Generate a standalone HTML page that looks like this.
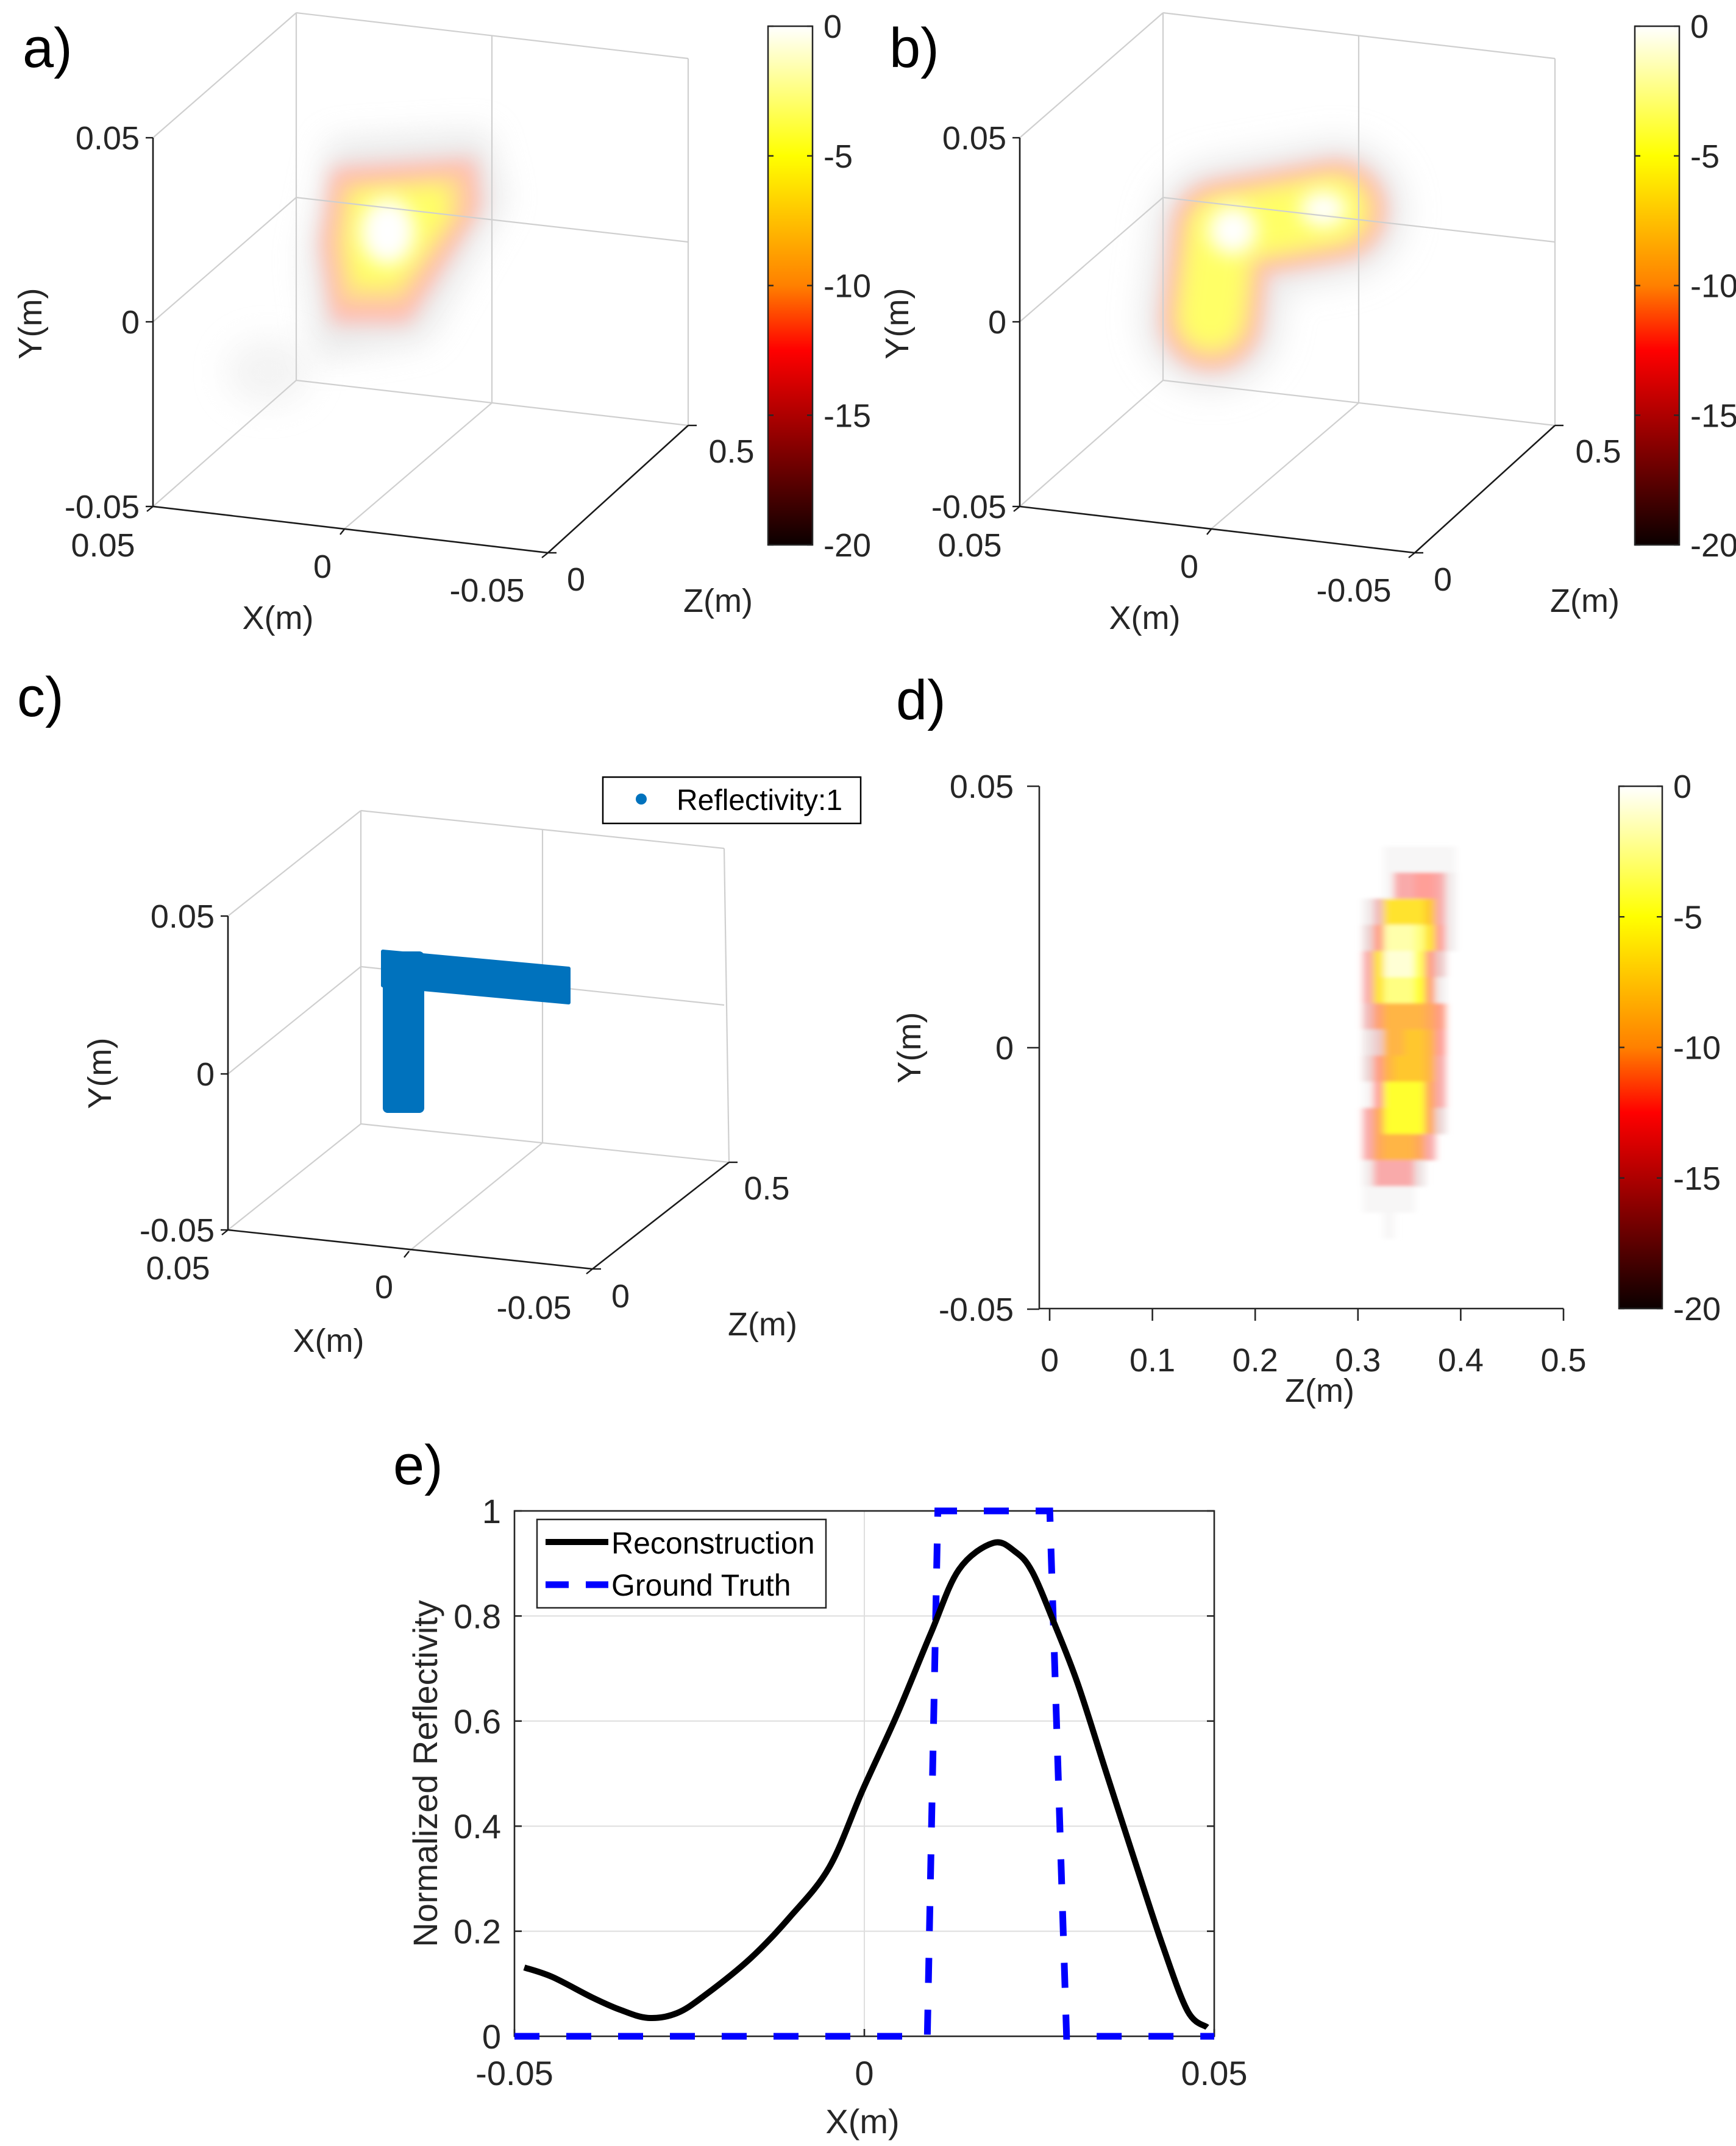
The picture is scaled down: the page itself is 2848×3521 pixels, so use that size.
<!DOCTYPE html>
<html><head><meta charset="utf-8">
<style>
html,body{margin:0;padding:0;background:#fff;}
svg{display:block;font-family:"Liberation Sans",Arial,sans-serif;}
</style></head>
<body>
<svg id="fig" width="2848" height="3521" viewBox="0 0 2848 3521" xmlns="http://www.w3.org/2000/svg">
<defs>
  <linearGradient id="hotcb" x1="0" y1="0" x2="0" y2="1">
    <stop offset="0" stop-color="#ffffff"/>
    <stop offset="0.25" stop-color="#ffff00"/>
    <stop offset="0.5" stop-color="#ff8000"/>
    <stop offset="0.625" stop-color="#ff0000"/>
    <stop offset="1" stop-color="#0b0000"/>
  </linearGradient>
  <filter id="blurA" filterUnits="userSpaceOnUse" x="0" y="0" width="1300" height="1000"><feGaussianBlur stdDeviation="16"/></filter>
  <filter id="blurB" filterUnits="userSpaceOnUse" x="0" y="0" width="1300" height="1000"><feGaussianBlur stdDeviation="26"/></filter>
  <filter id="blurH" filterUnits="userSpaceOnUse" x="1700" y="1250" width="900" height="950"><feGaussianBlur stdDeviation="6 3"/></filter>
</defs>

<g id="panelA">
  <text x="37" y="110" font-size="92">a)</text>
  <g>
    <polygon points="540,230 800,215 830,330 700,560 520,590 500,420" fill="#d8d8d8" opacity="0.55" filter="url(#blurB)"/>
    <ellipse cx="440" cy="610" rx="70" ry="55" fill="#e8e8e8" opacity="0.5" filter="url(#blurB)"/>
    <polygon points="545,275 780,260 790,340 670,530 545,530 525,400" fill="#ffbcb4" filter="url(#blurA)"/>
    <polygon points="560,300 760,285 765,345 660,500 560,500 545,400" fill="#ffd890" filter="url(#blurA)"/>
    <polygon points="580,315 735,305 735,355 650,470 580,470 570,400" fill="#ffff66" filter="url(#blurA)"/>
    <ellipse cx="636" cy="380" rx="45" ry="55" fill="#ffffff" filter="url(#blurA)"/>
  </g>
</g>
<g id="panelB" transform="translate(1422,0)">
  <text x="37" y="110" font-size="92">b)</text>
  <g>
    <polyline points="565,525 582,378 770,345" fill="none" stroke="#d8d8d8" stroke-opacity="0.55" stroke-width="230" stroke-linecap="round" stroke-linejoin="round" filter="url(#blurB)"/>
    <polyline points="565,525 582,378 770,345" fill="none" stroke="#ffbcb4" stroke-width="165" stroke-linecap="round" stroke-linejoin="round" filter="url(#blurA)"/>
    <polyline points="565,525 582,378 770,345" fill="none" stroke="#ffd890" stroke-width="130" stroke-linecap="round" stroke-linejoin="round" filter="url(#blurA)"/>
    <polyline points="565,520 582,378 765,345" fill="none" stroke="#ffff66" stroke-width="100" stroke-linecap="round" stroke-linejoin="round" filter="url(#blurA)"/>
    <ellipse cx="600" cy="378" rx="40" ry="40" fill="#ffffff" filter="url(#blurA)"/>
    <ellipse cx="749" cy="343" rx="38" ry="30" fill="#ffffff" filter="url(#blurA)"/>
  </g>
</g>

<g id="panelC">
  <text x="28" y="1175" font-size="92">c)</text>
  <g>
    <rect x="989" y="1275" width="423" height="76" fill="#fff" stroke="#000" stroke-width="2.5"/>
    <circle cx="1052" cy="1311" r="9" fill="#0072bd"/>
    <text x="1110" y="1329" font-size="48">Reflectivity:1</text>
  </g>
</g>

<g id="panelD">
  <text x="1470" y="1180" font-size="92">d)</text>
</g>

<g id="panelE">
  <text x="645" y="2435" font-size="92">e)</text>
</g>
</svg>

<script>
// ---------------- Panel e data ----------------
const reconX = [-0.0486,-0.0446,-0.0389,-0.0349,-0.0309,-0.0268,-0.0228,-0.0163,-0.0107,-0.0050,-0.0002,0.0046,0.0095,0.0135,0.0184,0.0216,0.0240,0.0272,0.0305,0.0345,0.0385,0.0426,0.0462,0.0490];
const reconY = [0.131,0.113,0.074,0.0505,0.035,0.044,0.078,0.148,0.226,0.322,0.470,0.610,0.767,0.888,0.939,0.922,0.884,0.784,0.671,0.505,0.340,0.174,0.048,0.017];
const truthX = [-0.05,0.009,0.0105,0.0265,0.0289,0.05];
const truthY = [0,0,1,1,0,0];
const eXTicks = [-0.05,0,0.05];
const eXTickLabels = ["-0.05","0","0.05"];
const eYTicks = [0,0.2,0.4,0.6,0.8,1];
const eYTickLabels = ["0","0.2","0.4","0.6","0.8","1"];

// ---------------- Panel d data (dB) ----------------
const dZCenters = [0.31,0.32,0.33,0.34,0.35,0.36,0.37,0.38,0.39,0.40];
const dYCenters = [0.036,0.031,0.026,0.021,0.016,0.011,0.006,0.001,-0.004,-0.009,-0.014,-0.019,-0.024,-0.029,-0.034];
const dValues = [
 [-30,-30,-19,-19,-19,-19,-19,-19,-19,-30],
 [-30,-30,-19,-13,-13,-12,-12,-13,-18,-30],
 [-18,-14,-6,-6,-6,-6,-7,-13,-18,-30],
 [-16,-11,-2,-2,-2,-3,-6,-12,-18,-30],
 [-13,-6,-1,-1,-1,-4,-11,-15,-30,-30],
 [-13,-6,-3,-3,-3,-5,-10,-18,-30,-30],
 [-14,-10,-8,-8,-8,-8,-9,-11,-30,-30],
 [-17,-15,-8,-8,-7,-7,-8,-12,-30,-30],
 [-16,-11,-8,-7,-7,-7,-8,-13,-30,-30],
 [-19,-12,-5,-5,-5,-5,-9,-13,-30,-30],
 [-13,-9,-5,-5,-5,-5,-9,-16,-30,-30],
 [-13,-9,-8,-8,-8,-9,-13,-30,-30,-30],
 [-18,-13,-13,-13,-13,-17,-30,-30,-30,-30],
 [-19,-19,-19,-19,-19,-30,-30,-30,-30,-30],
 [-30,-30,-19,-30,-30,-30,-30,-30,-30,-30]
];
const dXTicks = [0,0.1,0.2,0.3,0.4,0.5];
const dXTickLabels = ["0","0.1","0.2","0.3","0.4","0.5"];
const dYTicks = [0.05,0,-0.05];
const dYTickLabels = ["0.05","0","-0.05"];
const cbTicks = [0,-5,-10,-15,-20];
const cbTickLabels = ["0","-5","-10","-15","-20"];

// ---------------- Panel c data ----------------
const lVertX = [0.030, 0.030];
const lVertY = [0.030, -0.005];
const lHorzY = [0.030, 0.030];
const lHorzX = [0.030, -0.025];

const NS = "http://www.w3.org/2000/svg";
const svg = document.getElementById('fig');
function mk(tag, attrs, parent){
  const el = document.createElementNS(NS, tag);
  for (const k in attrs) el.setAttribute(k, attrs[k]);
  (parent||svg).appendChild(el);
  return el;
}
function txt(s, attrs, parent){ const t = mk('text', attrs, parent); t.textContent = s; return t; }

function box3d(g, P){
  const grey = '#cfcfcf';
  const lines = [
    [P.bl_t, P.bl_b],[P.bm_t,P.bm_b],[P.br_t,P.br_b],
    [P.bl_t, P.br_t],[P.bl_m,P.br_m],[P.bl_b,P.br_b],
    [P.fl_t, P.bl_t],[P.fl_m,P.bl_m],[P.fl_b,P.bl_b],
    [P.fm_b, P.bm_b]
  ];
  for (const L of lines){
    const ln = mk('line',{x1:L[0][0],y1:L[0][1],x2:L[1][0],y2:L[1][1],stroke:grey,'stroke-width':2.2},g);
    
    
  }
  const ax = [[P.fl_t,P.fl_b],[P.fl_b,P.fr_b],[P.fr_b,P.br_b]];
  for (const L of ax){
    const ln = mk('line',{x1:L[0][0],y1:L[0][1],x2:L[1][0],y2:L[1][1],stroke:'#1a1a1a','stroke-width':2.6},g);
    
    
  }
  const tk = [[P.fl_t,[-12,0]],[P.fl_m,[-12,0]],[P.fl_b,[-12,0]],[P.fl_b,[-10,8]],[P.fm_b,[-8,10]],[P.fr_b,[-10,8]],[P.fr_b,[14,0]],[P.br_b,[14,0]]];
  for (const t of tk){
    const ln = mk('line',{x1:t[0][0],y1:t[0][1],x2:t[0][0]+t[1][0],y2:t[0][1]+t[1][1],stroke:'#1a1a1a','stroke-width':2.4},g);
    
    
  }
  const fs = 54;
  const labels = [
    ['0.05', P.fl_t[0]-22, P.fl_t[1]+19, 'end','y-tick-label'],
    ['0', P.fl_m[0]-22, P.fl_m[1]+19, 'end','y-tick-label'],
    ['-0.05', P.fl_b[0]-22, P.fl_b[1]+19, 'end','y-tick-label'],
    ['0.05', P.xl0[0], P.xl0[1], 'middle','x-tick-label'],
    ['0', P.xl1[0], P.xl1[1], 'middle','x-tick-label'],
    ['-0.05', P.xl2[0], P.xl2[1], 'middle','x-tick-label'],
    ['0', P.zl0[0], P.zl0[1], 'middle','z-tick-label'],
    ['0.5', P.zl1[0], P.zl1[1], 'middle','z-tick-label'],
    ['X(m)', P.xt[0], P.xt[1], 'middle','x-axis-title'],
    ['Z(m)', P.zt[0], P.zt[1], 'middle','z-axis-title']
  ];
  for (const l of labels){
    const t = txt(l[0],{x:l[1],y:l[2],'font-size':fs,'text-anchor':l[3],fill:'#262626'},g);
    
    
  }
  const yt = txt('Y(m)',{x:P.yt[0],y:P.yt[1],'font-size':fs,'text-anchor':'middle',fill:'#262626',transform:`rotate(-90 ${P.yt[0]} ${P.yt[1]})`},g);
  
  
}

const PA = {
  bl_t:[486,21], bl_m:[486,324], bl_b:[486,624],
  bm_t:[807,59], bm_b:[807,661],
  br_t:[1129,96], br_m:[1129,397], br_b:[1129,698],
  fl_t:[251,226], fl_m:[251,528], fl_b:[251,831],
  fm_b:[566,867], fr_b:[899,907],
  xl0:[169,913], xl1:[529,948], xl2:[799,987], zl0:[945,969], zl1:[1200,759],
  xt:[456,1032], zt:[1178,1004], yt:[68,531]
};
function colorbar(g, x, y0, y1, w){
  const r = mk('rect',{x:x,y:y0,width:w,height:y1-y0,fill:'url(#hotcb)',stroke:'#262626','stroke-width':2.5},g);
  
  
  const sc = v => y0 + (0 - v)/20*(y1-y0);
  cbTicks.forEach((v,i)=>{
    const yy = sc(v);
    const a = mk('line',{x1:x,y1:yy,x2:x+9,y2:yy,stroke:'#262626','stroke-width':2.4},g);
    
    
    const b = mk('line',{x1:x+w-9,y1:yy,x2:x+w,y2:yy,stroke:'#262626','stroke-width':2.4},g);
    
    
    const t = txt(cbTickLabels[i],{x:x+w+18,y:yy+19,'font-size':54,fill:'#262626'},g);
    
    
  });
}
const gA = document.getElementById('panelA');
const gB = document.getElementById('panelB');
box3d(gA, PA); colorbar(gA, 1260, 43, 894, 73);
box3d(gB, PA); colorbar(gB, 1260, 43, 894, 73);

const PC = {
  bl_t:[592,1330], bl_m:[592,1586], bl_b:[592,1844],
  bm_t:[890,1362], bm_b:[890,1875],
  br_t:[1188,1392], br_m:[1188,1649], br_b:[1196,1907],
  fl_t:[374,1503], fl_m:[374,1762], fl_b:[374,2018],
  fm_b:[671,2053], fr_b:[972,2082],
  xl0:[292,2099], xl1:[630,2130], xl2:[876,2164], zl0:[1018,2145], zl1:[1258,1968],
  xt:[539,2218], zt:[1251,2191], yt:[182,1761]
};
const gC = document.getElementById('panelC');
box3d(gC, PC);
function cProjX(x){ return 628 + (0.030 - x)/0.055*(933-628); }
function cProjY(y, x){ const slope = (1589-1561)/(933-628); return 1561 + (0.030 - y)/0.035*(1826-1561) + (cProjX(x)-628)*slope; }
{
  const blue = '#0072bd';
  const armW = 68;
  const x0 = cProjX(lVertX[0]);
  const v = mk('rect',{x:x0,y:cProjY(lVertY[0],lVertX[0]),width:armW,height:cProjY(lVertY[1],lVertX[1])-cProjY(lVertY[0],lVertX[0]),rx:8,fill:blue},gC);
  
  
  const xa = cProjX(lHorzX[0]), xb = cProjX(lHorzX[1]);
  const ya = cProjY(lHorzY[0],lHorzX[0]), yb = cProjY(lHorzY[1],lHorzX[1]);
  const h = mk('polygon',{points:`${xa},${ya} ${xb},${yb} ${xb},${yb+56} ${xa},${ya+56}`,fill:blue,stroke:blue,'stroke-width':6,'stroke-linejoin':'round'},gC);
  
  
}

// ---------- Panel d ----------
const gD = document.getElementById('panelD');
const dX = z => 1722 + (z-0)/(0.5)*(2565-1722);
const dY = y => 1719 - y/0.05*(1719-1290);
function hot(v){
  let t = Math.max(0, Math.min(1, (v+20)/20));
  const r = Math.min(1, t/0.375), gg = Math.max(0,Math.min(1,(t-0.375)/0.375)), b = Math.max(0,Math.min(1,(t-0.75)/0.25));
  return [r*255, gg*255, b*255];
}
function mixWhite(v){
  if (v < -20) return null;
  const c = hot(v);
  const a = 0.82*Math.pow(Math.max(0, Math.min(1,(v+21)/14)), 1.6);
  return `rgb(${Math.round(255+(c[0]-255)*a)},${Math.round(255+(c[1]-255)*a)},${Math.round(255+(c[2]-255)*a)})`;
}
{
  const hm = mk('g',{filter:'url(#blurH)'},gD);
  
  
  const dz = 0.01, dy = 0.005;
  dYCenters.forEach((yc,i)=>{
    dZCenters.forEach((zc,j)=>{
      const col = mixWhite(dValues[i][j]);
      if(!col) return;
      const r = mk('rect',{x:dX(zc-dz/2),y:dY(yc+dy/2),width:dX(zc+dz/2)-dX(zc-dz/2)+0.5,height:dY(yc-dy/2)-dY(yc+dy/2)+0.5,fill:col},hm);
      
      
    });
  });
  const ya = mk('line',{x1:1705,y1:1290,x2:1705,y2:2147,stroke:'#262626','stroke-width':2.6},gD);
  
  
  const xa = mk('line',{x1:1705,y1:2147,x2:2565,y2:2147,stroke:'#262626','stroke-width':2.6},gD);
  
  
  dXTicks.forEach((v,i)=>{
    const X = dX(v);
    const t = mk('line',{x1:X,y1:2147,x2:X,y2:2167,stroke:'#262626','stroke-width':2.6},gD);
    
    
    const l = txt(dXTickLabels[i],{x:X,y:2250,'font-size':54,'text-anchor':'middle',fill:'#262626'},gD);
    
    
  });
  dYTicks.forEach((v,i)=>{
    const Y = dY(v);
    const t = mk('line',{x1:1685,y1:Y,x2:1705,y2:Y,stroke:'#262626','stroke-width':2.6},gD);
    
    
    const l = txt(dYTickLabels[i],{x:1663,y:Y+19,'font-size':54,'text-anchor':'end',fill:'#262626'},gD);
    
    
  });
  const xt = txt('Z(m)',{x:2165,y:2300,'font-size':54,'text-anchor':'middle',fill:'#262626'},gD);
  
  
  const yt = txt('Y(m)',{x:1510,y:1719,'font-size':54,'text-anchor':'middle',fill:'#262626',transform:'rotate(-90 1510 1719)'},gD);
  
  
  colorbar(gD, 2656, 1290, 2147, 71);
}

// ---------- Panel e ----------
const gE = document.getElementById('panelE');
const eL=844, eR=1992, eT=2479, eB=3341;
const ex = v => eL + (v+0.05)/0.1*(eR-eL);
const ey = v => eB - v*(eB-eT);
function smoothPath(pts){
  let d = `M${pts[0][0]},${pts[0][1]}`;
  for (let i=0;i<pts.length-1;i++){
    const p0 = pts[Math.max(0,i-1)], p1 = pts[i], p2 = pts[i+1], p3 = pts[Math.min(pts.length-1,i+2)];
    const c1x = p1[0]+(p2[0]-p0[0])/6, c1y = p1[1]+(p2[1]-p0[1])/6;
    const c2x = p2[0]-(p3[0]-p1[0])/6, c2y = p2[1]-(p3[1]-p1[1])/6;
    d += ` C${c1x},${c1y} ${c2x},${c2y} ${p2[0]},${p2[1]}`;
  }
  return d;
}
{
  eYTicks.forEach(v=>{ if(v>0 && v<1){ const g = mk('line',{x1:eL,y1:ey(v),x2:eR,y2:ey(v),stroke:'#dedede','stroke-width':2},gE);
    
     }});
  const gx = mk('line',{x1:ex(0),y1:eT,x2:ex(0),y2:eB,stroke:'#dedede','stroke-width':2},gE);
  
  
  const fr = mk('rect',{x:eL,y:eT,width:eR-eL,height:eB-eT,fill:'none',stroke:'#262626','stroke-width':2.6},gE);
  
  
  eYTicks.forEach((v,i)=>{
    const Y = ey(v);
    const a = mk('line',{x1:eL,y1:Y,x2:eL+12,y2:Y,stroke:'#262626','stroke-width':2.6},gE);
    
    
    const b = mk('line',{x1:eR-12,y1:Y,x2:eR,y2:Y,stroke:'#262626','stroke-width':2.6},gE);
    
    
    const l = txt(eYTickLabels[i],{x:eL-22,y:Y+20,'font-size':56,'text-anchor':'end',fill:'#262626'},gE);
    
    
  });
  eXTicks.forEach((v,i)=>{
    const X = ex(v);
    const a = mk('line',{x1:X,y1:eB,x2:X,y2:eB-12,stroke:'#262626','stroke-width':2.6},gE);
    
    
    const l = txt(eXTickLabels[i],{x:X,y:3421,'font-size':56,'text-anchor':'middle',fill:'#262626'},gE);
    
    
  });
  const tp = truthX.map((x,i)=>`${ex(x)},${ey(truthY[i])}`).join(' ');
  const tl = mk('polyline',{points:tp,fill:'none',stroke:'#0000ff','stroke-width':11,'stroke-dasharray':'41 44'},gE);
  
  
  const rpts = reconX.map((x,i)=>[ex(x), ey(reconY[i])]);
  const rl = mk('path',{d:smoothPath(rpts),fill:'none',stroke:'#000','stroke-width':10,'stroke-linejoin':'round'},gE);
  
  
  const lg = mk('g',{},gE);
  
  
  mk('rect',{x:881,y:2493,width:474,height:145,fill:'#fff',stroke:'#262626','stroke-width':2.5},lg);
  mk('line',{x1:895,y1:2530,x2:998,y2:2530,stroke:'#000','stroke-width':10},lg);
  mk('line',{x1:895,y1:2600,x2:998,y2:2600,stroke:'#0000ff','stroke-width':11,'stroke-dasharray':'38 28'},lg);
  const l1 = txt('Reconstruction',{x:1003,y:2549,'font-size':50,fill:'#000'},lg);
  
  
  const l2 = txt('Ground Truth',{x:1003,y:2618,'font-size':50,fill:'#000'},lg);
  
  
  const xt = txt('X(m)',{x:1415,y:3500,'font-size':56,'text-anchor':'middle',fill:'#262626'},gE);
  
  
  const yt = txt('Normalized Reflectivity',{x:717,y:2910,'font-size':56,'text-anchor':'middle',fill:'#262626',transform:'rotate(-90 717 2910)'},gE);
  
  
}
</script>
</body></html>
